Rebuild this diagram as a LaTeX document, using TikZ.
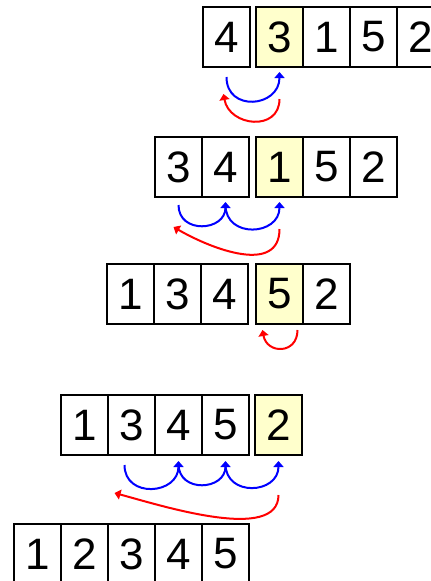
\documentclass[tikz,border=0pt]{standalone}
\usepackage{fontspec}
\setmainfont{Liberation Sans}
\usetikzlibrary{positioning,arrows.meta}
\definecolor{keyyellow}{RGB}{255,255,204}

\begin{document}
\begin{tikzpicture}[x=1pt,y=-1pt,
    cell/.style={draw,line width=1.6pt,minimum width=47pt,minimum height=60pt,
      inner sep=0pt,outer sep=0pt,anchor=north west,font=\fontsize{44}{44}\selectfont},
    key/.style={cell,fill=keyyellow},
    shiftarc/.style={draw=blue,line width=2pt,-{Triangle[length=6pt,width=10pt]}},
    insarc/.style={draw=red,line width=2pt,-{Triangle[length=6pt,width=10pt]}}]
  \useasboundingbox (0,0) rectangle (431,581);
  \clip (0,0) rectangle (431,581);

  % pass 1: insert 3
  \node[cell] (r1a) at (203,7) {4};
  \node[key] (r1b) at (256,7) {3};
  \node[cell,right=0pt of r1b] (r1c) {1};
  \node[cell,right=0pt of r1c] (r1d) {5};
  \node[cell,right=0pt of r1d] (r1e) {2};
  \draw[shiftarc] ([yshift=-10]r1a.south) to[out=-90,in=-90,looseness=1.7] ([yshift=-5]r1b.south);
  \draw[insarc] ([yshift=-32]r1b.south) to[out=-90,in=-80,looseness=1.5] ([xshift=-3,yshift=-27]r1a.south);

  % pass 2: insert 1
  \node[cell] (r2a) at (155,137) {3};
  \node[cell,right=0pt of r2a] (r2b) {4};
  \node[key] (r2c) at (256,137) {1};
  \node[cell,right=0pt of r2c] (r2d) {5};
  \node[cell,right=0pt of r2d] (r2e) {2};
  \draw[shiftarc] ([yshift=-8]r2a.south) to[out=-90,in=-90,looseness=1.6] ([yshift=-5]r2b.south);
  \draw[shiftarc] ([yshift=-8]r2b.south) to[out=-90,in=-90,looseness=1.6] ([yshift=-5]r2c.south);
  \draw[insarc] ([yshift=-32]r2c.south) to[out=-90,in=-30,looseness=1.1] ([xshift=-5,yshift=-30]r2a.south);

  % pass 3: 5 stays put
  \node[cell] (r3a) at (107,264) {1};
  \node[cell,right=0pt of r3a] (r3b) {3};
  \node[cell,right=0pt of r3b] (r3c) {4};
  \node[key] (r3d) at (256,264) {5};
  \node[cell,right=0pt of r3d] (r3e) {2};
  \draw[insarc] ([xshift=18,yshift=-6]r3d.south) to[out=-90,in=-80,looseness=1.8] ([xshift=-17,yshift=-6]r3d.south);

  % pass 4: insert 2
  \node[cell] (r4a) at (61,395) {1};
  \node[cell,right=0pt of r4a] (r4b) {3};
  \node[cell,right=0pt of r4b] (r4c) {4};
  \node[cell,right=0pt of r4c] (r4d) {5};
  \node[key] (r4e) at (255,395) {2};
  \draw[shiftarc] ([xshift=-7,yshift=-10]r4b.south) to[out=-90,in=-90,looseness=1.6] ([yshift=-6]r4c.south);
  \draw[shiftarc] ([yshift=-9]r4c.south) to[out=-90,in=-90,looseness=1.6] ([yshift=-6]r4d.south);
  \draw[shiftarc] ([yshift=-9]r4d.south) to[out=-90,in=-90,looseness=1.6] ([yshift=-6]r4e.south);
  \draw[insarc] ([yshift=-40]r4e.south) to[out=-90,in=-15,looseness=0.75] ([xshift=-17,yshift=-38]r4b.south);

  % sorted
  \node[cell] (r5a) at (14,524) {1};
  \node[cell,right=0pt of r5a] (r5b) {2};
  \node[cell,right=0pt of r5b] (r5c) {3};
  \node[cell,right=0pt of r5c] (r5d) {4};
  \node[cell,right=0pt of r5d] (r5e) {5};
\end{tikzpicture}
\end{document}
